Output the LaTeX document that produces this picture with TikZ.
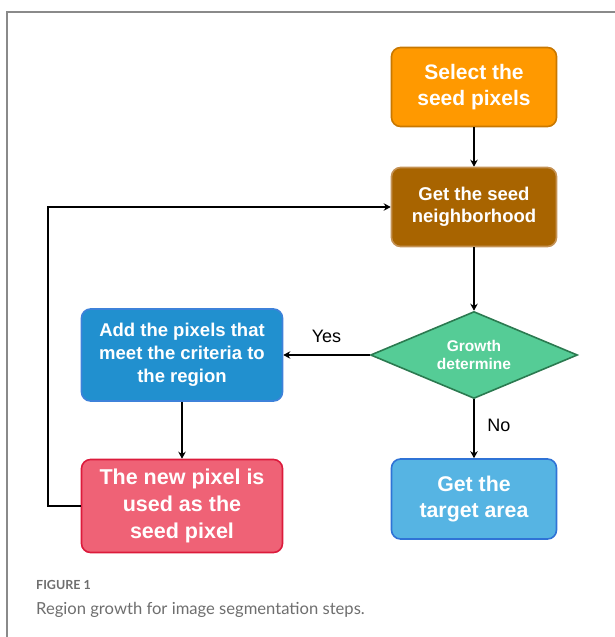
\documentclass[tikz,border=0pt]{standalone}
\usepackage{fontspec}
\setmainfont{Liberation Sans}
\newfontfamily\capfont{Lato}
\usetikzlibrary{shapes.geometric,arrows.meta}
\definecolor{selfill}{HTML}{FF9900}
\definecolor{seldraw}{HTML}{C97800}
\definecolor{nbfill}{HTML}{A86400}
\definecolor{nbdraw}{HTML}{C49255}
\definecolor{grfill}{HTML}{55CC96}
\definecolor{grdraw}{HTML}{2B7A50}
\definecolor{addfill}{HTML}{2190CF}
\definecolor{adddraw}{HTML}{3D82DA}
\definecolor{newfill}{HTML}{EF6276}
\definecolor{newdraw}{HTML}{DC1B3C}
\definecolor{tgfill}{HTML}{56B4E3}
\definecolor{tgdraw}{HTML}{2F73D6}
\definecolor{capgray}{HTML}{6E6E6E}
\definecolor{framegray}{HTML}{8A8A8A}
\begin{document}
\begin{tikzpicture}[x=1pt,y=-1pt,
  stepbox/.style={rectangle,rounded corners=9pt,line width=1.6pt,align=center,
    text=white,font=\bfseries,inner sep=0pt},
  flow/.style={line width=2pt,-{Stealth[length=7pt,width=7.5pt]}},
  lbl/.style={font=\fontsize{18}{21}\selectfont}]
\useasboundingbox (0,0) rectangle (614,637);
% outer frame
\draw[framegray,line width=1.2pt] (7,640) -- (7,12) -- (617,12);

% process boxes
\node[stepbox,fill=selfill,draw=seldraw,minimum width=165pt,minimum height=79pt,
  font=\bfseries\fontsize{21}{26.5}\selectfont] (sel) at (474,87) {Select the\\seed pixels};
\node[stepbox,fill=nbfill,draw=nbdraw,minimum width=165pt,minimum height=79pt,
  font=\bfseries\fontsize{18.5}{22}\selectfont] (nb) at (474,207) {Get the seed\\neighborhood};
\node[diamond,aspect=2.38,fill=grfill,draw=grdraw,line width=1.6pt,inner sep=0pt,
  minimum width=207pt,minimum height=87pt,text=white,align=center,
  font=\bfseries\fontsize{15.5}{18.5}\selectfont] (gr) at (474,355) {Growth\\determine};
\node[stepbox,fill=addfill,draw=adddraw,minimum width=201pt,minimum height=92pt,
  font=\bfseries\fontsize{18.5}{23}\selectfont] (add) at (182,355) {Add the pixels that\\meet the criteria to\\the region};
\node[stepbox,fill=newfill,draw=newdraw,minimum width=201pt,minimum height=93pt,
  font=\bfseries\fontsize{21.5}{27}\selectfont] (new) at (182,506) {The new pixel is\\used as the\\seed pixel};
\node[stepbox,fill=tgfill,draw=tgdraw,minimum width=165pt,minimum height=80pt,
  font=\bfseries\fontsize{21.3}{26.5}\selectfont] (tg) at (474,499) {Get the\\target area};

% connectors
\coordinate (loopL) at (48,506);
\coordinate (loopT) at (48,207);
\draw[flow] (sel) -- (nb);
\draw[flow] (nb) -- (gr);
\draw[flow] (gr) -- (add) node[lbl,pos=0.5,above=8pt] (yes) {Yes};
\draw[flow] (gr) -- (tg) node[lbl,pos=0.45,right=9pt] (no) {No};
\draw[flow] (add) -- (new);
\draw[flow] (new.west) -- (loopL) -- (loopT) -- (nb.west |- loopT);

% caption
\node[anchor=base west,inner sep=0pt,text=capgray,font=\capfont\bfseries\fontsize{12.5}{14}\selectfont] (fig) at (36,589) {FIGURE 1};
\node[anchor=base west,inner sep=0pt,text=capgray,font=\capfont\fontsize{16.6}{19}\selectfont] (cap) at (36,614) {Region growth for image segmentation steps.};
\end{tikzpicture}
\end{document}
